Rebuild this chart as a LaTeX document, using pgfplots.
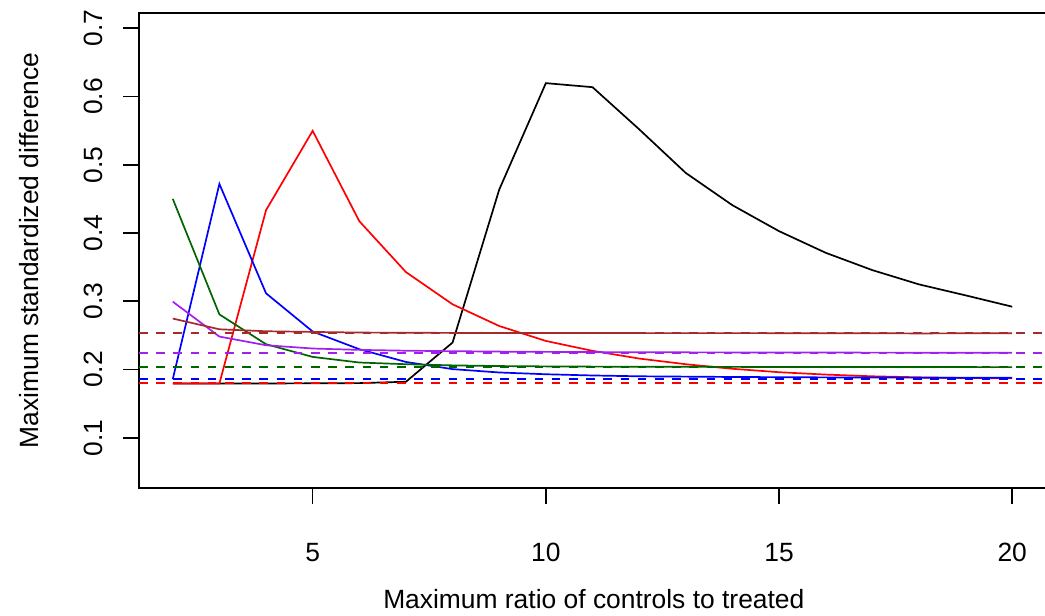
\documentclass[border=0pt]{standalone}
\usepackage{fontspec}
\setmainfont{Liberation Sans}
\usepackage{pgfplots}
\pgfplotsset{compat=1.18}
\definecolor{rbrown}{HTML}{A52A2A}
\definecolor{rpurple}{HTML}{A020F0}
\definecolor{rgreen}{HTML}{006400}
\begin{document}
\fontsize{13.2bp}{16bp}\selectfont
\begin{tikzpicture}
\begin{axis}[
  at={(0,0)}, anchor=south west,
  scale only axis, width=454.8bp, height=237.5bp,
  xmin=1.276, xmax=20.78, ymin=0.0263, ymax=0.7224,
  axis line style={line width=0.8bp},
  tick align=outside, major tick length=7.8bp,
  tick style={black, line width=0.8bp},
  xtick={5,10,15,20}, xticklabels={5,10,15,20},
  ytick={0.1,0.2,0.3,0.4,0.5,0.6,0.7},
  yticklabels={0.1,0.2,0.3,0.4,0.5,0.6,0.7},
  xtick pos=bottom, ytick pos=left,
  tick label style={font=\fontsize{13.2bp}{16bp}\selectfont, inner sep=0pt},
  xticklabel style={anchor=base, yshift=-28.9bp},
  yticklabel style={xshift=-10.2bp, rotate=90, anchor=base},
  label style={font=\fontsize{13.2bp}{16bp}\selectfont, inner sep=0pt},
  xlabel={Maximum ratio of controls to treated},
  ylabel={Maximum standardized difference},
  xlabel style={at={(axis description cs:0.5,-0.2547)}, anchor=base},
  ylabel style={at={(axis description cs:-0.1110,0.5)}, anchor=base},
  every axis plot/.append style={line width=0.85bp},
  clip=true,
]
% solid series
\addplot[black] coordinates {
 (2,0.1795) (3,0.1795) (4,0.1795) (5,0.1797) (6,0.1800) (7,0.1820)
 (8,0.2395) (9,0.4636) (10,0.6196) (11,0.6137) (12,0.5520) (13,0.4880)
 (14,0.4407) (15,0.4027) (16,0.3710) (17,0.3456) (18,0.3247) (19,0.3086) (20,0.2920)};
\addplot[red] coordinates {
 (2,0.1795) (3,0.1795) (4,0.4334) (5,0.5497) (6,0.4173) (7,0.3427)
 (8,0.2955) (9,0.2637) (10,0.2418) (11,0.2273) (12,0.2160) (13,0.2077)
 (14,0.2010) (15,0.1960) (16,0.1925) (17,0.1900) (18,0.1885) (19,0.1875) (20,0.1870)};
\addplot[blue] coordinates {
 (2,0.1858) (3,0.4719) (4,0.3116) (5,0.2556) (6,0.2297) (7,0.2110)
 (8,0.2005) (9,0.1956) (10,0.1930) (11,0.1912) (12,0.1900) (13,0.1895)
 (14,0.1890) (15,0.1887) (16,0.1884) (17,0.1882) (18,0.1880) (19,0.1879) (20,0.1878)};
\addplot[rgreen] coordinates {
 (2,0.4500) (3,0.2807) (4,0.2370) (5,0.2184) (6,0.2102) (7,0.2077)
 (8,0.2060) (9,0.2050) (10,0.2045) (11,0.2042) (12,0.2040) (13,0.2039)
 (14,0.2038) (15,0.2037) (16,0.2036) (17,0.2036) (18,0.2035) (19,0.2035) (20,0.2034)};
\addplot[rpurple] coordinates {
 (2,0.2994) (3,0.2482) (4,0.2355) (5,0.2307) (6,0.2287) (7,0.2275)
 (8,0.2268) (9,0.2262) (10,0.2258) (11,0.2255) (12,0.2253) (13,0.2251)
 (14,0.2250) (15,0.2249) (16,0.2248) (17,0.2247) (18,0.2246) (19,0.2246) (20,0.2245)};
\addplot[rbrown] coordinates {
 (2,0.2746) (3,0.2589) (4,0.2560) (5,0.2550) (6,0.2541) (7,0.2538)
 (8,0.2536) (9,0.2535) (10,0.2534) (11,0.2534) (12,0.2533) (13,0.2533)
 (14,0.2533) (15,0.2532) (16,0.2532) (17,0.2531) (18,0.2528) (19,0.2530) (20,0.2531)};
% dashed reference lines
\addplot[rbrown, line width=1bp, dash pattern=on 4.3bp off 4.3bp] coordinates {(1.276,0.2531) (20.78,0.2531)};
\addplot[rpurple, line width=1bp, dash pattern=on 4.3bp off 4.3bp] coordinates {(1.276,0.2238) (20.78,0.2238)};
\addplot[rgreen, line width=1bp, dash pattern=on 4.3bp off 4.3bp] coordinates {(1.276,0.2035) (20.78,0.2035)};
\addplot[blue, line width=1bp, dash pattern=on 4.3bp off 4.3bp] coordinates {(1.276,0.1858) (20.78,0.1858)};
\addplot[red, line width=1bp, dash pattern=on 4.3bp off 4.3bp] coordinates {(1.276,0.1795) (20.78,0.1795)};
\end{axis}
\pgfresetboundingbox
\path[use as bounding box] (-69.5bp,-64bp) rectangle (453bp,244bp);
\end{tikzpicture}
\end{document}
